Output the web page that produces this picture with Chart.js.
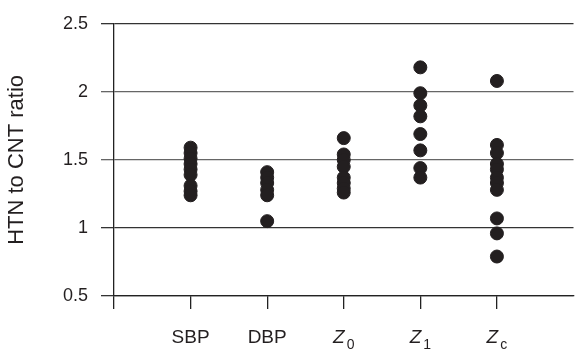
<!DOCTYPE html>
<html>
<head>
<meta charset="utf-8">
<script src="https://cdn.jsdelivr.net/npm/chart.js@4.4.1/dist/chart.umd.min.js"></script>
<style>
  html, body { margin: 0; padding: 0; background: #fff; }
  #wrap { width: 581px; height: 354px; }
</style>
</head>
<body>
<div id="wrap"><canvas id="ratioChart"></canvas></div>
<script>
// categories (label text + subscript)
const categories = ["SBP", "DBP", "Z0", "Z1", "Zc"];
const catMain = ["SBP", "DBP", "Z", "Z", "Z"];
const catSub = ["", "", "0", "1", "c"];

// HTN to CNT ratio per parameter
const sbpValues = [1.59, 1.55, 1.51, 1.47, 1.43, 1.39, 1.31, 1.27, 1.24];
const dbpValues = [1.41, 1.37, 1.33, 1.28, 1.24, 1.05];
const z0Values = [1.66, 1.54, 1.50, 1.45, 1.37, 1.33, 1.29, 1.26];
const z1Values = [2.18, 1.99, 1.90, 1.82, 1.69, 1.57, 1.44, 1.37];
const zcValues = [2.08, 1.61, 1.55, 1.47, 1.43, 1.37, 1.33, 1.28, 1.07, 0.96, 0.79];

const yTicks = [0.5, 1, 1.5, 2, 2.5];

const allSeries = [sbpValues, dbpValues, z0Values, z1Values, zcValues];
const points = [];
for (let i = 0; i < allSeries.length; i++) {
    for (let j = 0; j < allSeries[i].length; j++) {
        points.push({x: i + 1, y: allSeries[i][j]});
    }
}

const FONT = "'Liberation Sans', Arial, sans-serif";

// draws x labels with italic Z and subscripts
const subLabels = {
    id: "subLabels",
    afterDraw(chart) {
        const ctx = chart.ctx;
        const xs = chart.scales.x;
        ctx.save();
        ctx.fillStyle = "#231f20";
        ctx.textBaseline = "alphabetic";
        ctx.textAlign = "left";
        for (let i = 0; i < categories.length; i++) {
            const px = xs.getPixelForValue(i + 1);
            const italic = catSub[i] !== "";
            const mainFont = (italic ? "italic " : "") + "19px " + FONT;
            const subFont = "14px " + FONT;
            ctx.font = mainFont;
            const w1 = ctx.measureText(catMain[i]).width;
            ctx.font = subFont;
            const w2 = catSub[i] ? ctx.measureText(catSub[i]).width + 2 : 0;
            let x0 = px - (w1 + w2) / 2;
            const base = 343;
            ctx.font = mainFont;
            ctx.fillText(catMain[i], x0, base);
            if (catSub[i]) {
                ctx.font = subFont;
                ctx.fillText(catSub[i], x0 + w1 + 2, base + 6);
            }
        }
        ctx.restore();
    }
};

new Chart(document.getElementById("ratioChart"), {
    type: "scatter",
    data: {
        datasets: [{
            data: points,
            backgroundColor: "#231f20",
            borderColor: "#231f20",
            pointRadius: 6.5,
            pointHoverRadius: 6.5
        }]
    },
    options: {
        responsive: true,
        maintainAspectRatio: false,
        animation: false,
        layout: {padding: {top: 16, right: 0, left: 0, bottom: 0}},
        plugins: {legend: {display: false}, tooltip: {enabled: false}},
        scales: {
            x: {
                type: "linear",
                min: 0,
                max: 6,
                afterBuildTicks: s => { s.ticks = [0, 1, 2, 3, 4, 5].map(v => ({value: v})); },
                afterFit: s => { s.height = 58; },
                ticks: {color: "rgba(0,0,0,0)", callback: () => ""},
                grid: {drawOnChartArea: false, drawTicks: true, tickLength: 13, color: "#222", lineWidth: 1.3},
                border: {color: "#222", width: 1.3}
            },
            y: {
                min: 0.5,
                max: 2.5,
                afterBuildTicks: s => { s.ticks = yTicks.map(v => ({value: v})); },
                afterFit: s => { s.width = 114; },
                ticks: {
                    padding: 13,
                    color: "#231f20",
                    font: {family: FONT, size: 18},
                    callback: v => String(v)
                },
                grid: {
                    drawTicks: true,
                    tickLength: 13,
                    lineWidth: 1.3,
                    color: c => (c.tick && (c.tick.value === 2 || c.tick.value === 1.5)) ? "#666" : "#333"
                },
                border: {color: "#222", width: 1.3},
                title: {
                    display: true,
                    text: "HTN to CNT ratio",
                    color: "#231f20",
                    font: {family: FONT, size: 22},
                    padding: {top: 4, bottom: 0}
                }
            }
        }
    },
    plugins: [subLabels]
});
</script>
</body>
</html>
